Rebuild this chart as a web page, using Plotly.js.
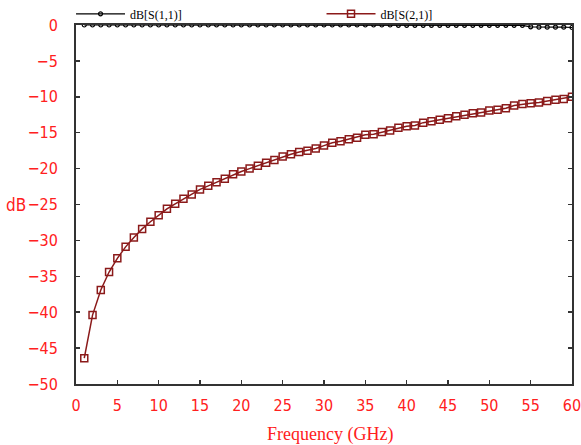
<!DOCTYPE html>
<html>
<head>
<meta charset="utf-8">
<script src="https://cdn.plot.ly/plotly-3.0.1.min.js"></script>
<style>html,body{margin:0;padding:0;background:#fff;}#chart{width:581px;height:445px;}</style>
</head>
<body>
<div id="chart"></div>
<script>
const freqGHz = [1,2,3,4,5,6,7,8,9,10,11,12,13,14,15,16,17,18,19,20,21,22,23,24,25,26,27,28,29,30,31,32,33,34,35,36,37,38,39,40,41,42,43,44,45,46,47,48,49,50,51,52,53,54,55,56,57,58,59,60];
const s11dB = [0,0,0,0,0,0,0,0,0,0,0,0,0,0,0,0,0,0,0,0,0,0,0,0,0,0,0,0,0,0,0,0,0,0,0,0,0,0,-0.05,-0.05,-0.05,-0.05,-0.05,-0.05,-0.05,-0.05,-0.05,-0.05,-0.05,-0.05,-0.05,-0.05,-0.05,-0.05,-0.25,-0.3,-0.3,-0.3,-0.3,-0.35];
const s21dB = [-46.4,-40.4,-36.9,-34.4,-32.5,-30.9,-29.6,-28.4,-27.4,-26.5,-25.6,-24.9,-24.2,-23.6,-22.9,-22.4,-21.9,-21.4,-20.8,-20.4,-20.0,-19.6,-19.2,-18.8,-18.3,-18.0,-17.7,-17.5,-17.2,-16.8,-16.4,-16.2,-15.9,-15.7,-15.3,-15.2,-14.9,-14.7,-14.3,-14.1,-14.0,-13.6,-13.4,-13.2,-13.0,-12.7,-12.5,-12.3,-12.2,-11.9,-11.8,-11.6,-11.2,-11.0,-10.9,-10.8,-10.6,-10.4,-10.3,-10.0];
const seriesNames = ['dB[S(1,1)]','dB[S(2,1)]'];
const xTickVals = [0,5,10,15,20,25,30,35,40,45,50,55,60];
const yTickVals = [0,-5,-10,-15,-20,-25,-30,-35,-40,-45,-50];
const xTitle = 'Frequency (GHz)';
const yTitle = 'dB';

const red = '#ff2020';
const tickFont = {family: 'Liberation Sans Narrow, DejaVu Sans Condensed, sans-serif', size: 16, color: red};
const legFont = {family: 'Liberation Serif', size: 12, color: '#000'};
const traces = [
  {x: freqGHz, y: s11dB, name: seriesNames[0], type: 'scatter', mode: 'lines+markers', legend: 'legend',
   line: {color: '#000000', width: 1.2},
   marker: {symbol: 'circle-open', size: 4, color: '#000000', line: {width: 1.2, color: '#000000'}}},
  {x: freqGHz, y: s21dB, name: seriesNames[1], type: 'scatter', mode: 'lines+markers', legend: 'legend2',
   line: {color: '#8b1a1a', width: 1.5},
   marker: {symbol: 'square-open', size: 7, color: '#8b1a1a', line: {width: 1.5, color: '#8b1a1a'}}}
];
const layout = {
  width: 581, height: 445,
  margin: {l: 76, r: 9, t: 25, b: 61, pad: 0, autoexpand: false},
  paper_bgcolor: '#fff', plot_bgcolor: '#fff',
  showlegend: true,
  legend: {orientation: 'h', x: -0.01, xanchor: 'left', y: 1.031, yanchor: 'middle', itemwidth: 49,
    font: legFont, bgcolor: 'rgba(0,0,0,0)', borderwidth: 0},
  legend2: {orientation: 'h', x: 0.495, xanchor: 'left', y: 1.031, yanchor: 'middle', itemwidth: 49,
    font: legFont, bgcolor: 'rgba(0,0,0,0)', borderwidth: 0},
  xaxis: {range: [0, 60], tickvals: xTickVals,
    ticks: 'inside', ticklen: 4, tickwidth: 1.5, tickcolor: '#333',
    showline: true, linecolor: '#333', linewidth: 2, mirror: true,
    showgrid: false, zeroline: false, ticklabelstandoff: 6, ticklabeloverflow: 'allow',
    tickfont: tickFont},
  yaxis: {range: [-50, 0], tickvals: yTickVals,
    ticks: 'inside', ticklen: 4, tickwidth: 1.5, tickcolor: '#333',
    showline: true, linecolor: '#333', linewidth: 2, mirror: 'ticks',
    showgrid: false, zeroline: false, ticklabelstandoff: 13, ticklabeloverflow: 'allow',
    tickfont: tickFont},
  annotations: [
    {text: yTitle, xref: 'paper', yref: 'paper', x: -0.12, y: 0.5,
     xanchor: 'center', yanchor: 'middle', showarrow: false,
     font: {family: 'Liberation Sans Narrow, DejaVu Sans Condensed, sans-serif', size: 17, color: red}},
    {text: xTitle, xref: 'paper', yref: 'paper', x: 0.512, y: -0.142,
     xanchor: 'center', yanchor: 'middle', showarrow: false,
     font: {family: 'Liberation Serif', size: 18, color: red}}
  ]
};
Plotly.newPlot('chart', traces, layout, {displayModeBar: false, staticPlot: true});
</script>
</body>
</html>
